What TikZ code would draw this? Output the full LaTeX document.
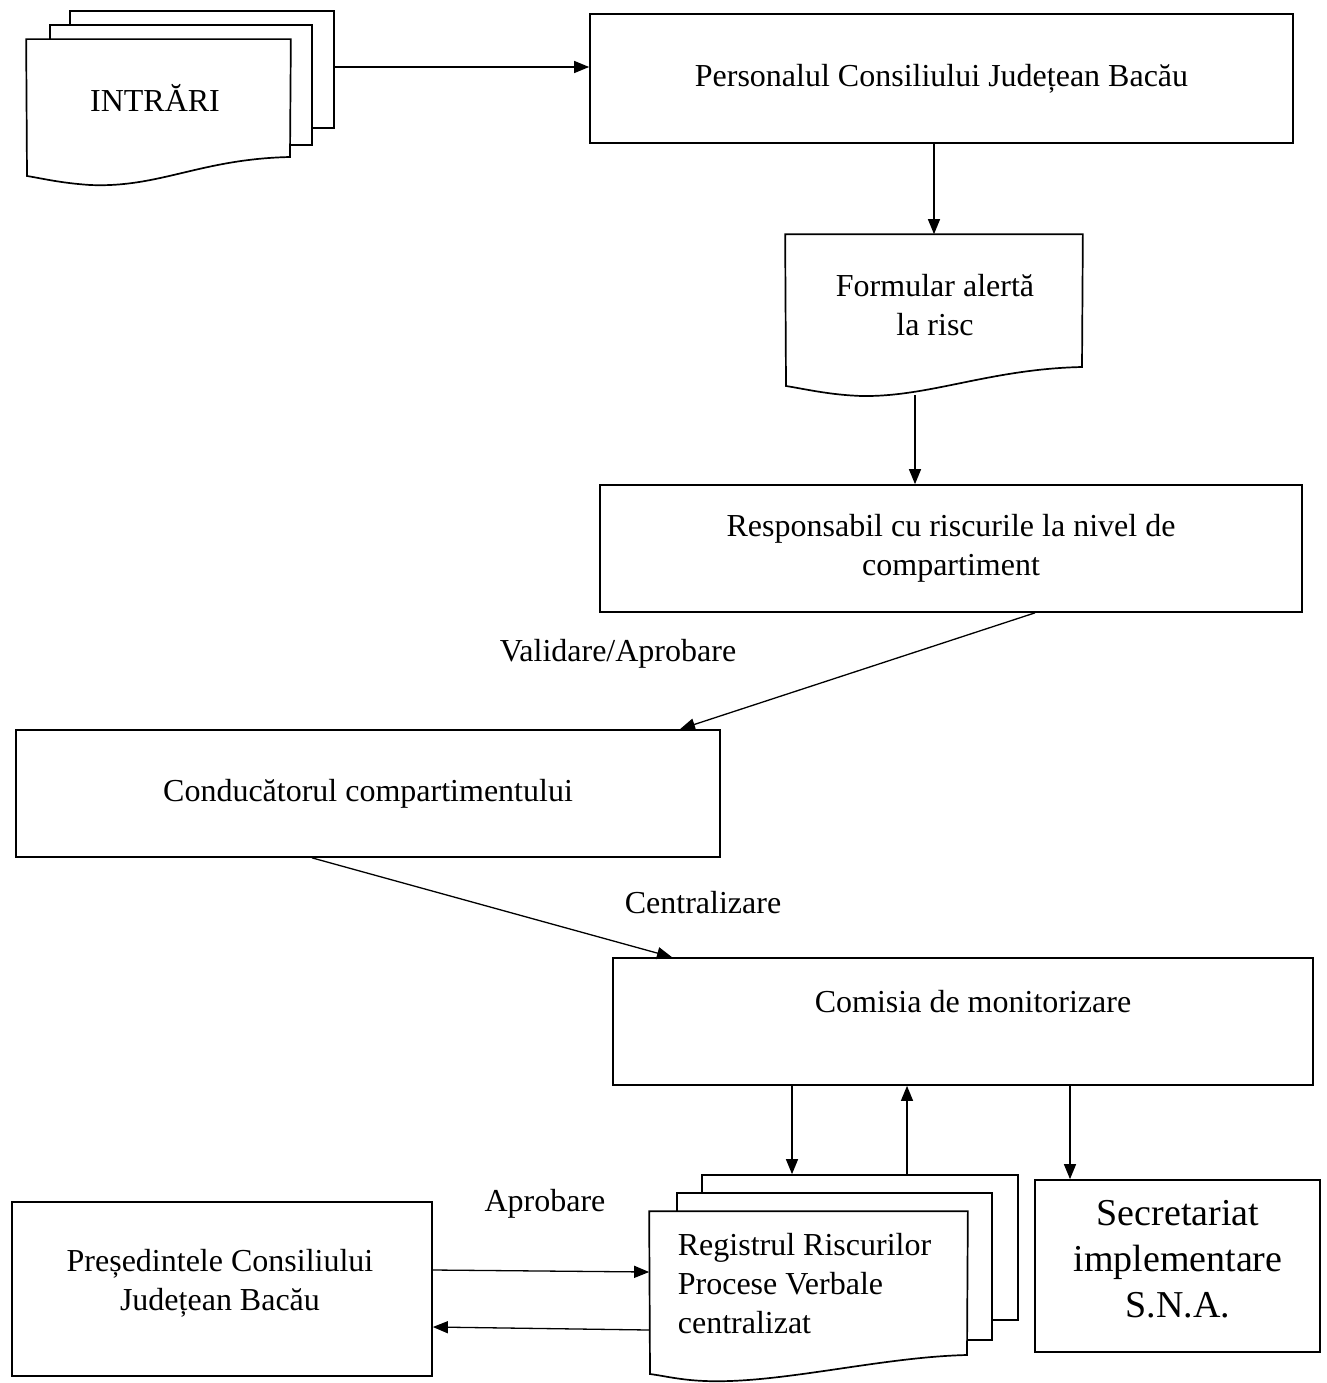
\documentclass[tikz,border=0pt]{standalone}
\usepackage{fontspec}
\setmainfont{Liberation Serif}
\usetikzlibrary{arrows.meta}
\begin{document}
\begin{tikzpicture}[x=1pt,y=-1pt,line width=1.7pt,
  box/.style={draw,fill=white,inner sep=0pt,align=center,font=\fontsize{32}{39}\selectfont},
  sheet/.style={draw,fill=white,inner sep=0pt},
  ghost/.style={inner sep=0pt,align=center,font=\fontsize{32}{39}\selectfont},
  txt/.style={inner sep=0pt,align=center,font=\fontsize{32}{39}\selectfont},
  arr/.style={-{Triangle[length=15pt,width=12pt]},line width=1.3pt}]
\useasboundingbox[fill=white] (0,0) rectangle (1326,1383);

% ---- INTRARI (multi-document)
\node[sheet,minimum width=264pt,minimum height=117pt] (intb) at (202,69.5) {};
\node[sheet,minimum width=262pt,minimum height=120pt] (intm) at (181,85) {};
\node[minimum width=263pt,minimum height=117pt,inner sep=0pt] (intf) at (158.5,98.5) {};
\draw[fill=white] (intf.north west) -- (intf.north east) -- (290,157)
  .. controls (200,159) and (160,188) .. (90,185)
  .. controls (60,183) and (40,178) .. (27,176) -- cycle;
\node[txt] (intt) at (155,98) {INTRĂRI};

% ---- boxes
\node[box,minimum width=703pt,minimum height=129pt] (pers) at (941.5,78.5) {Personalul Consiliului Județean Bacău};

\node[ghost,minimum width=296pt,minimum height=130pt] (form) at (934,300) {};
\draw[fill=white] (form.north west) -- (form.north east) -- (1082,367)
  .. controls (990,369) and (930,397) .. (862,396)
  .. controls (830,395) and (805,389) .. (786,386) -- cycle;
\node[txt] (formt) at (935,305) {Formular alertă\\la risc};

\node[box,minimum width=702pt,minimum height=127pt] (resp) at (951,548.5) {Responsabil cu riscurile la nivel de\\compartiment};
\node[box,minimum width=704pt,minimum height=127pt] (cond) at (368,793.5) {Conducătorul compartimentului};
\node[box,minimum width=700pt,minimum height=127pt] (com) at (963,1021.5) {};
\node[txt] (comt) at (973,1002) {Comisia de monitorizare};
\node[box,minimum width=285pt,minimum height=172pt] (sec) at (1177.5,1266) {};
\node[txt,font=\fontsize{38}{46}\selectfont] (sect) at (1178,1259) {Secretariat\\implementare\\S.N.A.};
\node[box,minimum width=420pt,minimum height=174pt] (pres) at (222,1289) {};
\node[txt] (prest) at (220,1283) {Președintele Consiliului\\Județean Bacău};

% ---- Registru (multi-document)
\node[sheet,minimum width=316pt,minimum height=145pt] (regb) at (860,1247.5) {};
\node[sheet,minimum width=315pt,minimum height=147pt] (regm) at (834.5,1266.5) {};
\node[minimum width=317pt,minimum height=143pt,inner sep=0pt] (regf) at (808.5,1283.5) {};
\draw[fill=white] (regf.north west) -- (regf.north east) -- (967,1355)
  .. controls (880,1357) and (780,1384) .. (705,1381)
  .. controls (680,1380) and (665,1376) .. (650,1374) -- cycle;
\node[txt,anchor=west,align=left] (regt) at (677,1284) {Registrul Riscurilor\\Procese Verbale\\centralizat};

% ---- labels
\node[txt] (lval) at (618,654) {Validare/Aprobare};
\node[txt] (lcen) at (703,903) {Centralizare};
\node[txt] (lapr) at (545,1204) {Aprobare};

% ---- connectors
\draw[arr] ([yshift=2.5pt]intb.east) -- ([yshift=2.5pt]intb.east -| pers.west);
\draw[arr] (form.north |- pers.south) -- (form.north);
\coordinate (fb) at (915,395);
\draw[arr] (fb) -- (fb |- resp.north);
\draw[arr] ([xshift=84pt]resp.south) -- ([xshift=312pt]cond.north);
\draw[arr] ([xshift=-56pt]cond.south) -- ([xshift=-291pt]com.north);
\draw[arr] ([xshift=-171pt]com.south) -- ([xshift=-68pt]regb.north);
\draw[arr] ([xshift=47pt]regb.north) -- ([xshift=-56pt]com.south);
\draw[arr] ([xshift=107pt]com.south) -- ([xshift=-107.5pt]sec.north);
\draw[arr] ([yshift=19pt]pres.east) -- ([yshift=11.5pt]regf.west);
\draw[arr] ([yshift=-46.5pt]regf.west) -- ([yshift=-38pt]pres.east);
\end{tikzpicture}
\end{document}
